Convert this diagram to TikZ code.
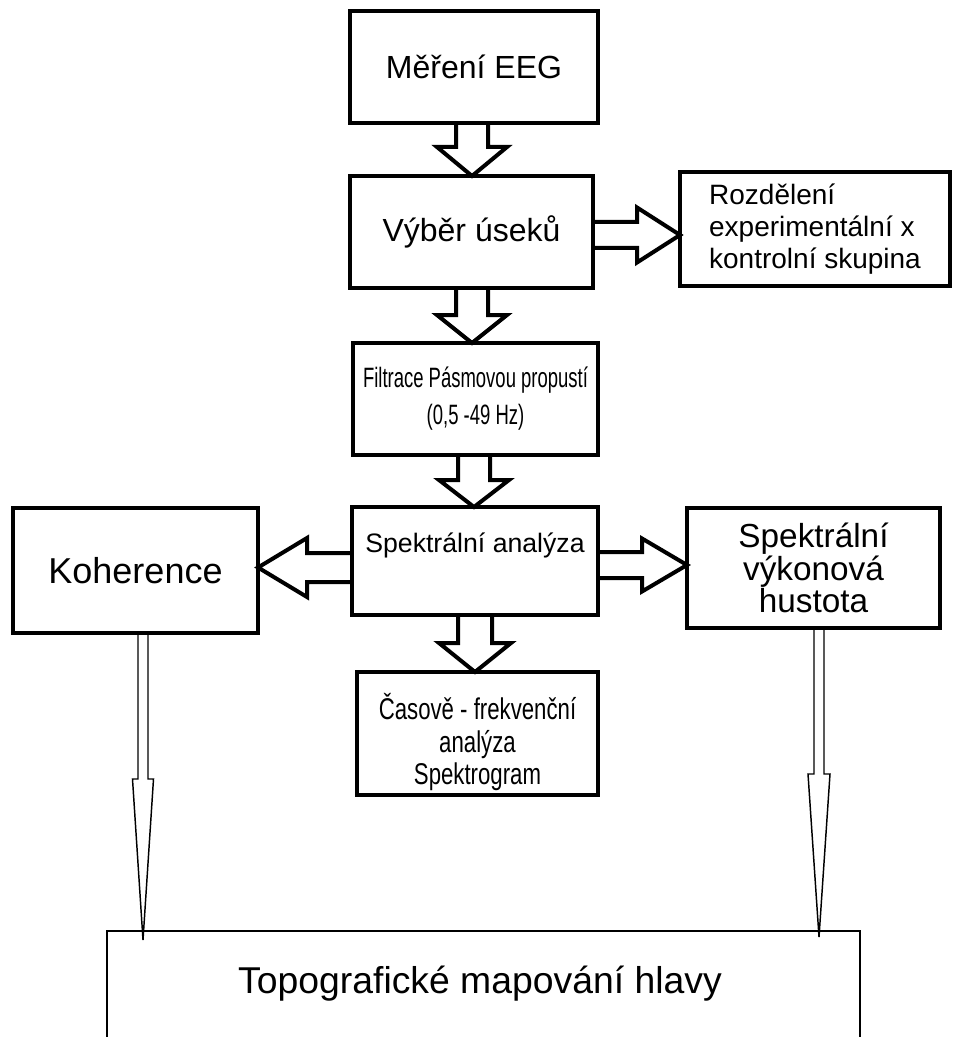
\documentclass[tikz,border=0pt]{standalone}
\usepackage{fontspec}
\setmainfont{Liberation Sans}
\newfontfamily\narrowC[FakeStretch=0.66]{Liberation Sans}
\newfontfamily\narrowE[FakeStretch=0.74]{Liberation Sans}
\usetikzlibrary{calc}
% down block arrow: [style]{from}{to}{column}{shaft half}{head half}{head length}
\newcommand{\downblk}[7][blk]{%
 \draw[#1] ($(#4 |- #2.south)+(-#5,0)$) -- ($(#4 |- #3.north)+(-#5,-#7)$) -- ($(#4 |- #3.north)+(-#6,-#7)$) -- (#4 |- #3.north) -- ($(#4 |- #3.north)+(#6,-#7)$) -- ($(#4 |- #3.north)+(#5,-#7)$) -- ($(#4 |- #2.south)+(#5,0)$);}
\newcommand{\rightblk}[7][blk]{%
 \draw[#1] ($(#2.east |- #4)+(0,-#5)$) -- ($(#3.west |- #4)+(-#7,-#5)$) -- ($(#3.west |- #4)+(-#7,-#6)$) -- (#3.west |- #4) -- ($(#3.west |- #4)+(-#7,#6)$) -- ($(#3.west |- #4)+(-#7,#5)$) -- ($(#2.east |- #4)+(0,#5)$);}
\newcommand{\leftblk}[7][blk]{%
 \draw[#1] ($(#2.west |- #4)+(0,-#5)$) -- ($(#3.east |- #4)+(#7,-#5)$) -- ($(#3.east |- #4)+(#7,-#6)$) -- (#3.east |- #4) -- ($(#3.east |- #4)+(#7,#6)$) -- ($(#3.east |- #4)+(#7,#5)$) -- ($(#2.west |- #4)+(0,#5)$);}
\begin{document}
\begin{tikzpicture}[x=0.75pt,y=-0.75pt,
  box/.style={draw,line width=3pt,inner sep=0pt,outer sep=0pt,align=center},
  thinbox/.style={draw,line width=1.5pt,inner sep=0pt,outer sep=0pt},
  sz/.style n args={2}{minimum width={#1*0.75pt},minimum height={#2*0.75pt}},
  blk/.style={line width=3pt,line join=miter},
  thinarr/.style={line width=1.1pt,line join=miter}]
\clip (0,0) rectangle (954,1037);
\fill[white] (0,0) rectangle (954,1037);
% boxes
\node[box, sz={248}{112}, font=\fontsize{24}{28}\selectfont] (A) at (474,67) {Měření EEG};
\node[box, sz={243}{112}, font=\fontsize{24}{28}\selectfont] (B) at (471.5,232) {Výběr úseků};
\node[box, sz={270}{114}, align=left, font=\fontsize{21}{24}\selectfont] (R) at (815,229) {Rozdělení\\experimentální x\\kontrolní skupina};
\node[box, sz={245}{112}, font=\fontsize{21}{27.75}\narrowC] (C) at (475.5,399) {Filtrace Pásmovou propustí\\(0,5 -49 Hz)};
\node[box, sz={246}{108}] (D) at (475,561) {};
\node[font=\fontsize{20}{24}\selectfont] (Dt) at (475,545) {Spektrální analýza};
\node[box, sz={241}{123}] (E) at (477.5,733.5) {};
\node[align=center, font=\fontsize{22.5}{24.4}\narrowE] (Et) at (477.5,742) {Časově - frekvenční\\analýza\\Spektrogram};
\node[box, sz={245}{125}, font=\fontsize{27}{32}\selectfont] (K) at (135.5,570.5) {Koherence};
\node[box, sz={253}{120}, font=\fontsize{25}{24.5}\selectfont] (S) at (813.5,568) {Spektrální\\výkonová\\hustota};
\node[thinbox, sz={753}{138}] (T) at (483.5,1000) {};
\node[anchor=base, font=\fontsize{28}{32}\selectfont] (Tt) at (480,993) {Topografické mapování hlavy};
% helper coordinates
\coordinate (c1) at (472,0);
\coordinate (c2) at (472,0);
\coordinate (c3) at (474,0);
\coordinate (c4) at (475,0);
\coordinate (r1) at (0,235);
\coordinate (r2) at (0,567.5);
\coordinate (r3) at (0,565);
\coordinate (k1) at (143,0);
\coordinate (s1) at (819,0);
% block arrows
\downblk{A}{B}{c1}{16}{35}{29}
\downblk{B}{C}{c2}{16}{35}{28}
\downblk{C}{D}{c3}{16}{35}{27}
\downblk{D}{E}{c4}{17}{36}{29}
\rightblk{B}{R}{r1}{13}{27.5}{43}
\leftblk{D}{K}{r2}{14.5}{29.5}{49}
\rightblk{D}{S}{r3}{13}{26.5}{45}
% thin arrows
\draw[thinarr] ($(k1 |- K.south)+(-5,0)$) -- ($(k1 |- T.north)+(-5,-152)$) -- ($(k1 |- T.north)+(-10.5,-152)$) -- ($(k1 |- T.north)+(0,9)$) -- ($(k1 |- T.north)+(10.5,-152)$) -- ($(k1 |- T.north)+(5,-152)$) -- ($(k1 |- K.south)+(5,0)$);
\draw[thinarr] ($(s1 |- S.south)+(-5,0)$) -- ($(s1 |- T.north)+(-5,-157)$) -- ($(s1 |- T.north)+(-11,-157)$) -- ($(s1 |- T.north)+(0,6)$) -- ($(s1 |- T.north)+(11,-157)$) -- ($(s1 |- T.north)+(5,-157)$) -- ($(s1 |- S.south)+(5,0)$);
\end{tikzpicture}
\end{document}
